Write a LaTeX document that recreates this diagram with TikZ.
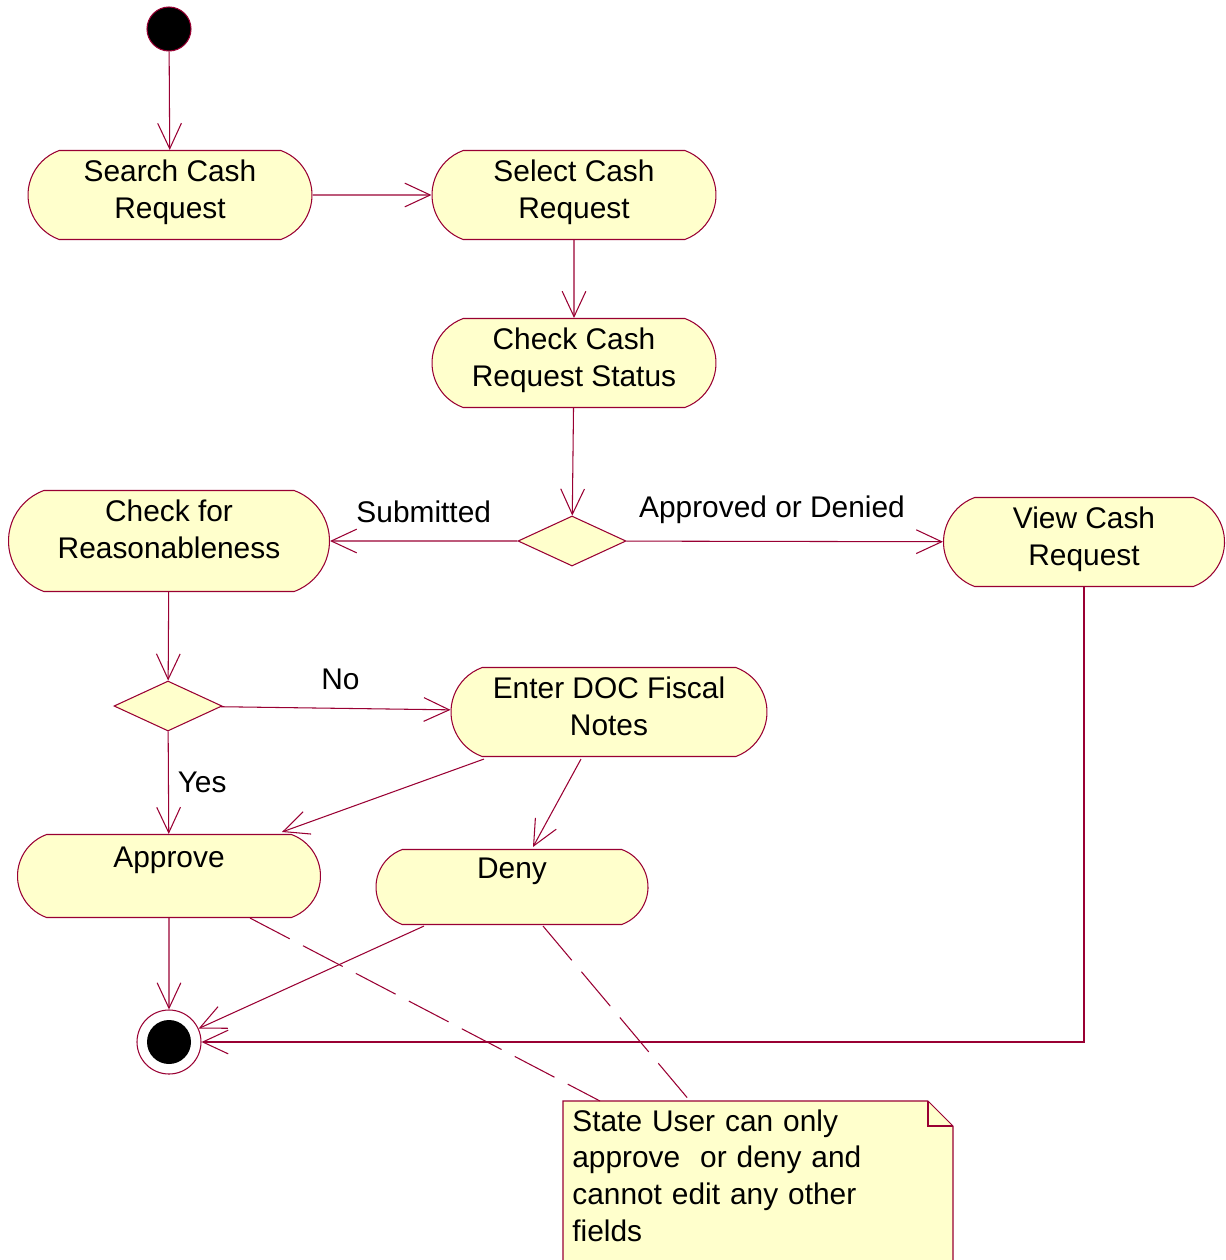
\documentclass[tikz,border=0pt]{standalone}
\usepackage{fontspec}
\setmainfont{Liberation Sans}
\usetikzlibrary{arrows.meta,shapes.geometric,shapes.misc,calc}
\definecolor{umlline}{RGB}{153,0,51}
\definecolor{umlfill}{RGB}{255,255,204}

\begin{document}
\begin{tikzpicture}[x=0.2mm,y=-0.2mm,
    every node/.style={font=\fontsize{17}{21}\selectfont},
    act/.style={rounded rectangle,rounded rectangle arc length=140,
      draw=umlline,fill=umlfill,line width=0.6pt,align=center,inner sep=0pt},
    choice/.style={diamond,draw=umlline,fill=umlfill,line width=0.6pt,
      minimum width=2.16cm,minimum height=1cm,inner sep=0pt},
    flow/.style={draw=umlline,line width=0.6pt,
      -{Straight Barb[length=14.5pt,width=13.5pt]}},
    link/.style={draw=umlline,line width=0.6pt,dash pattern=on 25.5pt off 8.5pt},
    tag/.style={inner sep=0pt}]
  \useasboundingbox (0,0) rectangle (1225,1260);

  \node[circle,fill=black,draw=umlline,line width=0.6pt,minimum size=0.88cm,inner sep=0pt] (start) at (169,29) {};
  \node[act,minimum width=5.68cm,minimum height=1.78cm] (search) at (170,195) {Search Cash\\Request\\[-14pt]\mbox{}};
  \node[act,minimum width=5.68cm,minimum height=1.78cm] (select) at (574,195) {Select Cash\\Request\\[-14pt]\mbox{}};
  \node[act,minimum width=5.68cm,minimum height=1.78cm] (status) at (574,363) {Check Cash\\Request Status\\[-14pt]\mbox{}};
  \node[choice] (dec1) at (572,541) {};
  \node[act,minimum width=6.42cm,minimum height=2.02cm] (reason) at (169,541) {Check for\\Reasonableness\\[-8pt]\mbox{}};
  \node[act,minimum width=5.62cm,minimum height=1.78cm] (view) at (1084,542) {View Cash\\Request\\[-14pt]\mbox{}};
  \node[choice] (dec2) at (168,706) {};
  \node[act,minimum width=6.32cm,minimum height=1.78cm] (fiscal) at (609,712) {Enter DOC Fiscal\\Notes\\[-14pt]\mbox{}};
  \node[act,minimum width=6.06cm,minimum height=1.66cm] (approve) at (169,876) {Approve\\\mbox{}};
  \node[act,minimum width=5.44cm,minimum height=1.5cm] (deny) at (512,887) {Deny\\\mbox{}};
  \node[circle,draw=umlline,line width=0.6pt,minimum size=1.28cm,inner sep=0pt] (final) at (169,1042) {};
  \fill (final) circle[radius=0.44cm];

  \filldraw[umlline,fill=umlfill,line width=0.6pt] (563,1262) -- (563,1101) -- (928,1101) -- (953,1126) -- (953,1262);
  \draw[umlline,line width=0.6pt] (928,1101) -- (928,1126) -- (953,1126);
  \node[anchor=north west,inner sep=0pt,align=left,text width=7.6cm] (note) at (572,1109)
    {State User can only\\approve~ or deny and\\cannot edit any other\\fields};

  \path[flow] (start) -- (search);
  \path[flow] (search) -- (select);
  \path[flow] (select) -- (status);
  \path[flow] (status) -- (dec1);
  \path[flow] (dec1) -- node[tag,above=10pt] {Submitted} (reason);
  \path[flow] (dec1) -- node[tag,above=10pt,pos=0.46] {Approved or Denied} (view);
  \path[flow] (reason) -- (dec2);
  \path[flow] (dec2) -- node[tag,above=10pt,pos=0.52] {No} (fiscal);
  \path[flow] (dec2) -- node[tag,right=5pt] {Yes} (approve);
  \path[flow] ($(fiscal.south)+(-125,2)$) -- ($(approve.north)+(113,-2)$);
  \path[flow] ($(fiscal.south)+(-28,2)$) -- ($(deny.north)+(21,-2)$);
  \path[flow] (approve) -- (final);
  \path[flow] ($(deny.south)+(-88,1)$) -- (final);
  \path[flow] (view.south) |- (final);
  \path[link] ($(approve.south)+(81,0)$) -- ($(note.north west)+(28,-8)$);
  \path[link] ($(deny.south)+(31,1)$) -- ($(note.north west)+(118,-8)$);
\end{tikzpicture}
\end{document}
